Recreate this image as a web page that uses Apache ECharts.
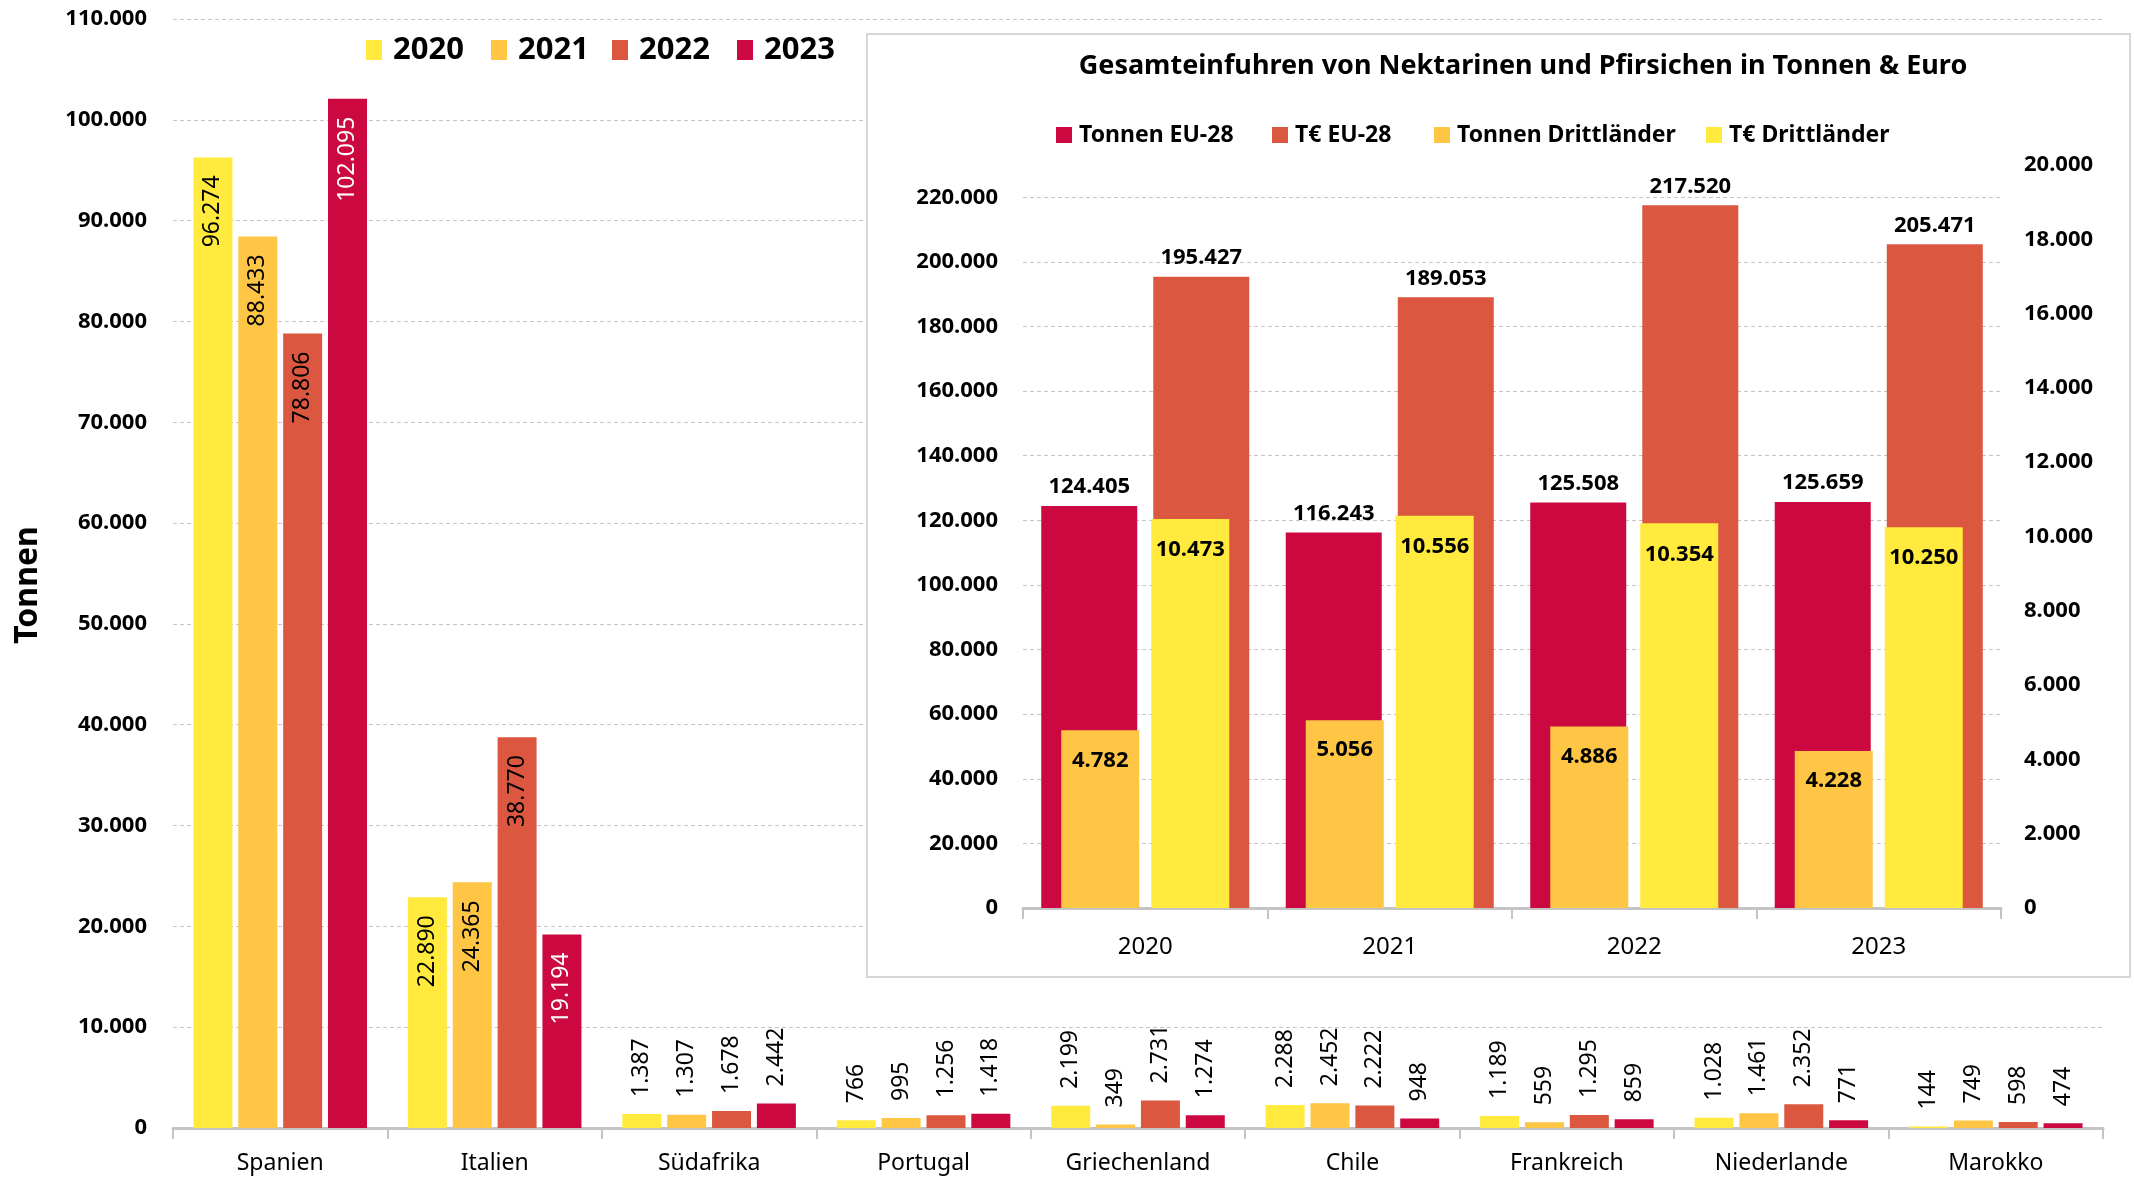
<!DOCTYPE html>
<html>
<head>
<meta charset="utf-8">
<script src="https://cdn.jsdelivr.net/npm/echarts@6/dist/echarts.min.js"></script>
<style>
html,body{margin:0;padding:0;background:#fff;}
#chart{width:2134px;height:1179px;}
</style>
</head>
<body>
<div id="chart"></div>
<script>
// ---- Main chart data ----
const categories = ['Spanien','Italien','Südafrika','Portugal','Griechenland','Chile','Frankreich','Niederlande','Marokko'];
const years = ['2020','2021','2022','2023'];
const v2020 = [96274, 22890, 1387, 766, 2199, 2288, 1189, 1028, 144];
const v2021 = [88433, 24365, 1307, 995, 349, 2452, 559, 1461, 749];
const v2022 = [78806, 38770, 1678, 1256, 2731, 2222, 1295, 2352, 598];
const v2023 = [102095, 19194, 2442, 1418, 1274, 948, 859, 771, 474];
const mainTicks = [0, 110000, 10000]; // min, max, interval

// ---- Inset data ----
const insetTitle = 'Gesamteinfuhren von Nektarinen und Pfirsichen in Tonnen & Euro';
const insetYears = ['2020','2021','2022','2023'];
const insetNames = ['Tonnen EU-28','T€ EU-28','Tonnen Drittländer','T€ Drittländer'];
const tonnenEU = [124405, 116243, 125508, 125659];
const euroEU = [195427, 189053, 217520, 205471];
const tonnenDritt = [4782, 5056, 4886, 4228];
const euroDritt = [10473, 10556, 10354, 10250];
const insetLeftTicks = [0, 230000, 20000];
const insetRightTicks = [0, 20000, 2000];

const C = {y:'#FFEA3D', o:'#FFC544', r:'#DB5740', c:'#CC0841'};
const FONT = '"Noto Sans", "Open Sans", sans-serif';
function de(v){ return String(v).replace(/\B(?=(\d{3})+(?!\d))/g, '.'); }

const mainValues = [v2020, v2021, v2022, v2023];
const mainColors = [C.y, C.o, C.r, C.c];

function mainData(arr, idx){
  return arr.map(v => {
    const inside = v >= 10000;
    return {
      value: v,
      label: inside ? {
        position: 'insideTop', rotate: 90, align: 'right', verticalAlign: 'middle',
        distance: 18, color: idx === 3 ? '#fff' : '#000'
      } : {
        position: 'top', rotate: 90, align: 'left', verticalAlign: 'middle',
        distance: 17, color: '#000'
      }
    };
  });
}

const series = mainValues.map((arr, i) => ({
  name: years[i], type: 'bar', xAxisIndex: 0, yAxisIndex: 0,
  barWidth: 39, barGap: '15%',
  itemStyle: {color: mainColors[i]},
  label: {show: true, fontFamily: FONT, fontSize: 23, formatter: p => de(p.value)},
  data: mainData(arr, i), z: 2
}));

const insetLabel = {show: true, fontFamily: FONT, fontSize: 22, fontWeight: 'bold', color: '#000', formatter: p => de(p.value)};
series.push(
  {name: insetNames[0], type:'bar', xAxisIndex:1, yAxisIndex:1, barWidth:96, barGap:'16.7%',
   itemStyle:{color:C.c}, label:Object.assign({position:'top', distance:8}, insetLabel), data: tonnenEU, z: 6},
  {name: insetNames[1], type:'bar', xAxisIndex:1, yAxisIndex:1, barWidth:96, barGap:'16.7%',
   itemStyle:{color:C.r}, label:Object.assign({position:'top', distance:8}, insetLabel), data: euroEU, z: 6},
  {name: insetNames[2], type:'bar', xAxisIndex:2, yAxisIndex:2, barWidth:78, barGap:'15.4%',
   itemStyle:{color:C.o}, label:Object.assign({position:'insideTop', distance:19}, insetLabel), data: tonnenDritt, z: 7},
  {name: insetNames[3], type:'bar', xAxisIndex:2, yAxisIndex:2, barWidth:78, barGap:'15.4%',
   itemStyle:{color:C.y}, label:Object.assign({position:'insideTop', distance:20}, insetLabel), data: euroDritt, z: 7}
);

const mainLegendX = [361, 486, 607, 732];
const insetLegendX = [1051, 1267, 1429, 1701];
const legends = [];
years.forEach((y, i) => legends.push({
  data: [y], left: mainLegendX[i], top: 27, icon: 'rect', itemWidth: 16, itemHeight: 20,
  textStyle: {fontFamily: FONT, fontSize: 31, fontWeight: 'bold', color: '#000', padding: [0,0,0,6], lineHeight: 36},
  selectedMode: false, z: 10
}));
insetNames.forEach((n, i) => legends.push({
  data: [n], left: insetLegendX[i], top: 116, icon: 'rect', itemWidth: 16, itemHeight: 16,
  textStyle: {fontFamily: FONT, fontSize: 23, fontWeight: 'bold', color: '#000', padding: [0,0,0,2], lineHeight: 28},
  selectedMode: false, z: 10
}));

const grayAxis = {lineStyle: {color: '#c4c4c4', width: 3}};
const dashed = {show: true, lineStyle: {color: '#c4c4c4', type: [4,3], width: 1}};

const option = {
  animation: false,
  backgroundColor: '#fff',
  textStyle: {fontFamily: FONT},
  legend: legends,
  grid: [
    {left: 173, right: 31, top: 19, bottom: 51},
    {left: 1023, width: 978, top: 165, bottom: 271, z: 6}
  ],
  xAxis: [
    {type: 'category', gridIndex: 0, data: categories,
     axisLine: grayAxis, axisTick: {show: true, length: 11, lineStyle: {color: '#c4c4c4', width: 2}},
     axisLabel: {fontFamily: FONT, fontSize: 23, color: '#000', margin: 24}},
    {type: 'category', gridIndex: 1, data: insetYears, z: 6,
     axisLine: grayAxis, axisTick: {show: true, length: 11, lineStyle: {color: '#c4c4c4', width: 2}},
     axisLabel: {fontFamily: FONT, fontSize: 24, color: '#000', margin: 27}},
    {type: 'category', gridIndex: 1, data: insetYears, show: false}
  ],
  yAxis: [
    {type: 'value', gridIndex: 0, min: mainTicks[0], max: mainTicks[1], interval: mainTicks[2],
     axisLine: {show: false}, axisTick: {show: false}, splitLine: dashed,
     axisLabel: {fontFamily: FONT, fontSize: 22, fontWeight: 'bold', color: '#000', margin: 26, formatter: de}},
    {type: 'value', gridIndex: 1, min: insetLeftTicks[0], max: insetLeftTicks[1], interval: insetLeftTicks[2], z: 6,
     axisLine: {show: false}, axisTick: {show: false},
     splitLine: Object.assign({showMaxLine: false}, dashed),
     axisLabel: {fontFamily: FONT, fontSize: 22, fontWeight: 'bold', color: '#000', margin: 25, showMaxLabel: false,
                 formatter: v => v >= insetLeftTicks[1] ? '' : de(v)}},
    {type: 'value', gridIndex: 1, position: 'right', min: insetRightTicks[0], max: insetRightTicks[1], interval: insetRightTicks[2], z: 6,
     axisLine: {show: false}, axisTick: {show: false}, splitLine: {show: false},
     axisLabel: {fontFamily: FONT, fontSize: 22, fontWeight: 'bold', color: '#000', margin: 23, formatter: de}}
  ],
  graphic: [
    {type: 'rect', z: 5, shape: {x: 867, y: 34, width: 1263, height: 943},
     style: {fill: '#fff', stroke: '#d6d6d6', lineWidth: 2}},
    {type: 'text', z: 10, x: 1523, y: 66,
     style: {text: insetTitle, font: 'bold 27px ' + FONT, fill: '#000', textAlign: 'center', textVerticalAlign: 'middle'}},
    {type: 'text', z: 10, x: 28, y: 585, rotation: Math.PI/2,
     style: {text: 'Tonnen', font: 'bold 32px ' + FONT, fill: '#000', textAlign: 'center', textVerticalAlign: 'middle'}}
  ],
  series: series
};

const chart = echarts.init(document.getElementById('chart'), null, {renderer: 'canvas'});
chart.setOption(option);
</script>
</body>
</html>
